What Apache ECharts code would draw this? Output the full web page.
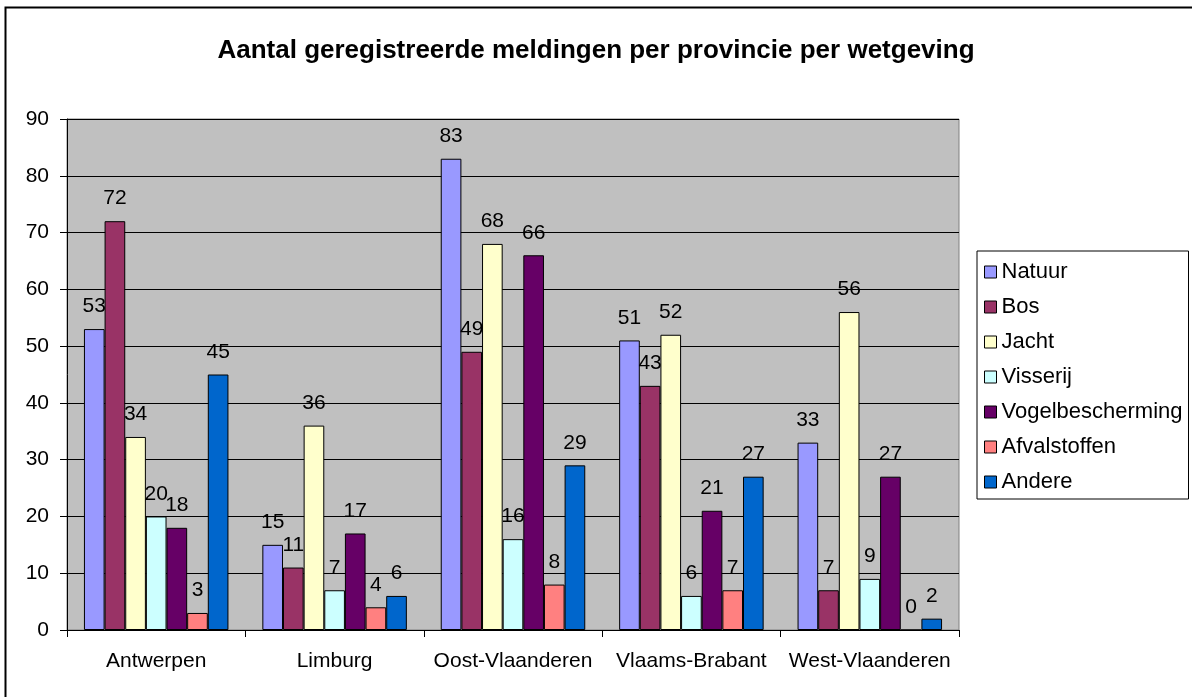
<!DOCTYPE html>
<html lang="nl">
<head>
    <meta charset="UTF-8">
    <script src="https://cdn.jsdelivr.net/npm/echarts@6/dist/echarts.min.js"></script>
    <title>Meldingen per provincie</title>
    <style>
        html, body { margin: 0; padding: 0; background: #fff; }
    </style>
</head>
<body>
    <div id="main" style="width:1192px;height:697px"></div>
    <script>
        var provincies = ['Antwerpen', 'Limburg', 'Oost-Vlaanderen', 'Vlaams-Brabant', 'West-Vlaanderen'];
        var natuur = [53, 15, 83, 51, 33];
        var bos = [72, 11, 49, 43, 7];
        var jacht = [34, 36, 68, 52, 56];
        var visserij = [20, 7, 16, 6, 9];
        var vogelbescherming = [18, 17, 66, 21, 27];
        var afvalstoffen = [3, 4, 8, 7, 0];
        var andere = [45, 6, 29, 27, 2];

        var reeksen = [
            { name: 'Natuur', data: natuur, kleur: '#9999FF' },
            { name: 'Bos', data: bos, kleur: '#993366' },
            { name: 'Jacht', data: jacht, kleur: '#FFFFCC' },
            { name: 'Visserij', data: visserij, kleur: '#CCFFFF' },
            { name: 'Vogelbescherming', data: vogelbescherming, kleur: '#660066' },
            { name: 'Afvalstoffen', data: afvalstoffen, kleur: '#FF8080' },
            { name: 'Andere', data: andere, kleur: '#0066CC' }
        ];

        var font = 'Liberation Sans, Arial, sans-serif';

        var series = reeksen.map(function (r) {
            return {
                name: r.name,
                type: 'bar',
                data: r.data,
                barGap: '0%',
                barCategoryGap: '19%',
                itemStyle: { color: r.kleur, borderColor: '#000', borderWidth: 1 },
                label: {
                    show: true,
                    position: 'top',
                    distance: 12,
                    color: '#000',
                    fontFamily: font,
                    fontSize: 21
                }
            };
        });

        var echart = echarts.init(document.getElementById('main'));
        var option = {
            animation: false,
            title: {
                text: 'Aantal geregistreerde meldingen per provincie per wetgeving',
                left: 'center',
                top: 33,
                textStyle: { fontFamily: font, fontSize: 26, fontWeight: 'bold', color: '#000' }
            },
            graphic: [{
                type: 'rect',
                shape: { x: 5.5, y: 7.5, width: 1300, height: 800 },
                style: { fill: null, stroke: '#000', lineWidth: 2 },
                silent: true
            }],
            legend: {
                orient: 'vertical',
                left: 977,
                top: 251,
                padding: [10, 6, 6, 7],
                itemGap: 13,
                itemWidth: 12,
                itemHeight: 12,
                borderColor: '#000',
                borderWidth: 1,
                backgroundColor: '#fff',
                icon: 'rect',
                itemStyle: { borderColor: '#000', borderWidth: 1 },
                textStyle: { fontFamily: font, fontSize: 22, color: '#000', lineHeight: 20 },
                data: reeksen.map(function (r) { return r.name; })
            },
            grid: {
                left: 67,
                top: 119,
                right: 233,
                bottom: 67,
                show: true,
                backgroundColor: '#C0C0C0',
                borderColor: '#808080',
                borderWidth: 1
            },
            xAxis: {
                type: 'category',
                data: provincies,
                axisLine: { lineStyle: { color: '#000', width: 1 } },
                axisTick: { show: true, length: 7, lineStyle: { color: '#000' } },
                axisLabel: { color: '#000', fontFamily: font, fontSize: 21, margin: 21, interval: 0 }
            },
            yAxis: {
                type: 'value',
                min: 0,
                max: 90,
                interval: 10,
                axisLine: { show: true, lineStyle: { color: '#000', width: 1 } },
                axisTick: { show: true, length: 7, lineStyle: { color: '#000' } },
                axisLabel: { color: '#000', fontFamily: font, fontSize: 21, margin: 18 },
                splitLine: { show: true, lineStyle: { color: '#000', width: 1 } }
            },
            series: series
        };
        echart.setOption(option);
    </script>
</body>
</html>
